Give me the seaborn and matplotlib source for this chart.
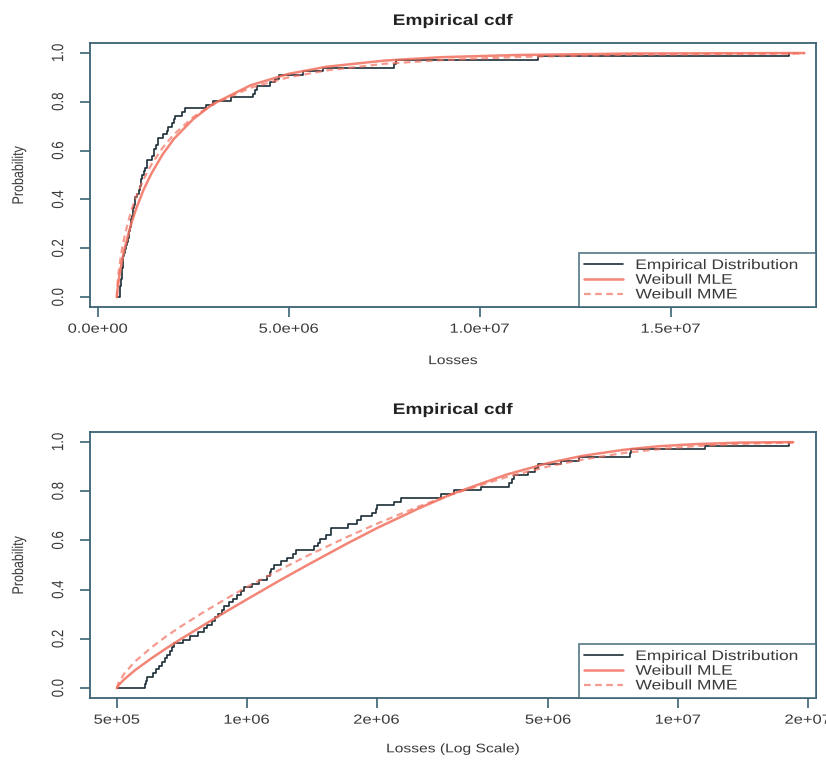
import numpy as np
import pandas as pd
import matplotlib
matplotlib.use("Agg")
import matplotlib.pyplot as plt
from matplotlib.patheffects import AbstractPathEffect
from matplotlib.transforms import Affine2D
import seaborn as sns

# ---- data ----
losses = [5.80e5, 5.84e5, 5.87e5, 6.05e5, 6.15e5, 6.25e5, 6.35e5, 6.45e5, 6.55e5, 6.65e5,
          6.72e5, 6.78e5, 7.10e5, 7.40e5, 7.70e5, 7.95e5, 8.10e5, 8.30e5, 8.45e5, 8.60e5,
          8.75e5, 8.85e5, 9.10e5, 9.30e5, 9.50e5, 9.70e5, 9.85e5, 1.03e6, 1.07e6, 1.115e6,
          1.13e6, 1.14e6, 1.155e6, 1.20e6, 1.24e6, 1.28e6, 1.30e6, 1.43e6, 1.46e6, 1.48e6,
          1.53e6, 1.565e6, 1.57e6, 1.715e6, 1.80e6, 1.84e6, 1.95e6, 1.99e6, 2.01e6, 2.20e6,
          2.28e6, 2.82e6, 3.02e6, 3.49e6, 4.06e6, 4.12e6, 4.17e6, 4.50e6, 4.65e6, 4.74e6,
          5.36e6, 5.90e6, 7.75e6, 7.80e6, 1.153e7, 1.81e7]
threshold = 5.0e5

curve_x = [5.0e5, 5.05e5, 5.2e5, 5.5e5, 6e5, 6.5e5, 7e5, 8e5, 9e5, 1e6, 1.2e6, 1.4e6,
           1.7e6, 2e6, 2.5e6, 3e6, 4e6, 5e6, 6e6, 7.5e6, 9e6, 1.1e7, 1.4e7, 1.85e7]
weibull_mle = [0, 0.013, 0.036, 0.072, 0.120, 0.161, 0.197, 0.259, 0.313, 0.360, 0.440, 0.505,
               0.585, 0.649, 0.729, 0.789, 0.867, 0.914, 0.943, 0.968, 0.982, 0.991, 0.997, 0.999]
weibull_mme = [0, 0.024, 0.059, 0.107, 0.164, 0.210, 0.248, 0.312, 0.365, 0.410, 0.483, 0.542,
               0.612, 0.667, 0.737, 0.788, 0.857, 0.900, 0.928, 0.955, 0.970, 0.983, 0.992, 0.997]

legend_labels = ["Empirical Distribution", "Weibull MLE", "Weibull MME"]
y_ticks = [0.0, 0.2, 0.4, 0.6, 0.8, 1.0]
top_xticks = [0, 5e6, 1e7, 1.5e7]
top_xticklabels = ["0.0e+00", "5.0e+06", "1.0e+07", "1.5e+07"]
bot_xticks = [5e5, 1e6, 2e6, 5e6, 1e7, 2e7]
bot_xticklabels = ["5e+05", "1e+06", "2e+06", "5e+06", "1e+07", "2e+07"]


# the reference image is horizontally stretched: draw text the same way
class HStretch(AbstractPathEffect):
    def __init__(self, sx=1.25, anchor="center"):
        super().__init__()
        self.sx = sx
        self.anchor = anchor

    def draw_path(self, renderer, gc, tpath, affine, rgbFace=None):
        ext = affine.transform_path(tpath).get_extents()
        if self.anchor == "left":
            cx = ext.x0
        elif self.anchor == "right":
            cx = ext.x1
        else:
            cx = 0.5 * (ext.x0 + ext.x1)
        t = affine + Affine2D().translate(-cx, 0).scale(self.sx, 1).translate(cx, 0)
        renderer.draw_path(gc, tpath, t, rgbFace)


# ---- frames ----
n = len(losses)
emp = pd.DataFrame({"x": [threshold] + list(losses),
                    "p": np.r_[0.0, np.arange(1, n + 1) / n]})
fit = pd.DataFrame({"x": curve_x, "mle": weibull_mle, "mme": weibull_mme})

sns.set_theme(style="white")
plt.rcParams["font.family"] = ["Liberation Sans", "DejaVu Sans"]

FRAME = "#3a6274"
STEP = "#1b2d36"
RED = "#f2705f"
TXT = "#3a3a3a"
SX = 1.25

fig = plt.figure(figsize=(8.26, 7.62), dpi=100)
W, H = 826, 762


def pos(l, t, r, b):
    return [l / W, 1 - b / H, (r - l) / W, (b - t) / H]


ax1 = fig.add_axes(pos(90, 43, 816, 307))
ax2 = fig.add_axes(pos(90, 432, 816, 698))

lo, hi = threshold, max(losses)
for ax, logscale in [(ax1, False), (ax2, True)]:
    sns.lineplot(data=emp, x="x", y="p", ax=ax, color=STEP, lw=1.2,
                 drawstyle="steps-post", sort=False, estimator=None,
                 label=legend_labels[0])
    sns.lineplot(data=fit, x="x", y="mle", ax=ax, color=RED, lw=1.8, alpha=0.85,
                 sort=False, estimator=None, label=legend_labels[1])
    sns.lineplot(data=fit, x="x", y="mme", ax=ax, color=RED, lw=1.6, alpha=0.7,
                 linestyle=(0, (3, 2)), sort=False, estimator=None, label=legend_labels[2])
    if logscale:
        ax.set_xscale("log")
        span = np.log10(hi) - np.log10(lo)
        ax.set_xlim(10 ** (np.log10(lo) - 0.04 * span), 10 ** (np.log10(hi) + 0.04 * span))
        ax.set_xticks(bot_xticks)
        ax.set_xticklabels(bot_xticklabels)
        ax.minorticks_off()
        xl = ax.set_xlabel("Losses (Log Scale)", fontsize=9, color=TXT, labelpad=12)
    else:
        span = hi - lo
        ax.set_xlim(lo - 0.04 * span, hi + 0.04 * span)
        ax.set_xticks(top_xticks)
        ax.set_xticklabels(top_xticklabels)
        xl = ax.set_xlabel("Losses", fontsize=9, color=TXT, labelpad=14)
    ax.set_ylim(-0.04, 1.04)
    ax.set_yticks(y_ticks)
    ax.set_yticklabels([f"{v:.1f}" for v in y_ticks], rotation=90, va="center")
    yl = ax.set_ylabel("Probability", fontsize=9, color=TXT, labelpad=20)
    tt = ax.set_title("Empirical cdf", fontsize=11, fontweight="bold", color="#222222", pad=13)
    ax.tick_params(axis="both", which="both", direction="out", length=7, width=1.2,
                   color=FRAME, labelsize=9.5, labelcolor=TXT, bottom=True, left=True)
    ax.tick_params(axis="x", pad=5)
    ax.tick_params(axis="y", pad=11)
    for s in ax.spines.values():
        s.set_color(FRAME)
        s.set_linewidth(1.3)
    ax.grid(False)
    leg = ax.legend(loc="lower left", bbox_to_anchor=(0.673, 0.0, 0.327, 0.2), mode="expand",
                    fontsize=10, frameon=True, fancybox=False,
                    borderaxespad=0, handlelength=2.8, handletextpad=0.9,
                    labelspacing=0.05, borderpad=0.4)
    leg.get_frame().set_edgecolor(FRAME)
    leg.get_frame().set_linewidth(1.3)
    for t in leg.get_texts():
        t.set_color(TXT)
        t.set_path_effects([HStretch(SX, "left")])
    for t in list(ax.get_xticklabels()) + list(ax.get_yticklabels()) + [xl, yl, tt]:
        t.set_path_effects([HStretch(SX, "center")])

fig.savefig("out.png", dpi=100)
